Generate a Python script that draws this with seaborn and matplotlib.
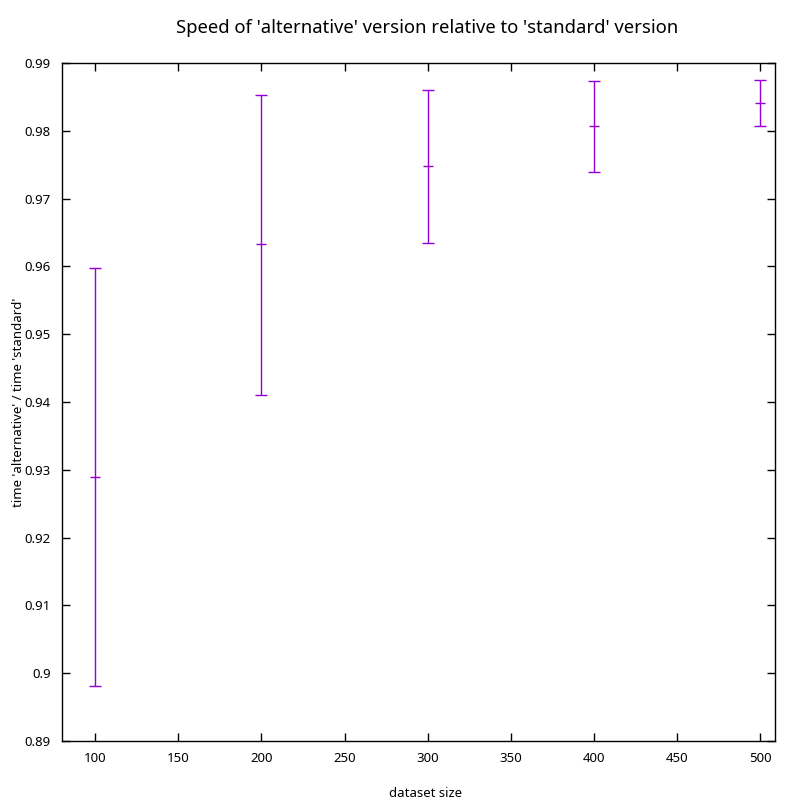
import numpy as np
import pandas as pd
import matplotlib
matplotlib.use("Agg")
import matplotlib.pyplot as plt
import seaborn as sns

sizes = [100, 200, 300, 400, 500]
ratio = [0.9289, 0.9633, 0.9748, 0.9807, 0.9841]
ratio_low = [0.8981, 0.9410, 0.9634, 0.9739, 0.9807]
ratio_high = [0.9598, 0.9853, 0.9860, 0.9873, 0.9875]

df = pd.DataFrame({"size": sizes, "ratio": ratio, "low": ratio_low, "high": ratio_high})

sns.set_style("ticks")
plt.rcParams["font.family"] = ["Noto Sans", "DejaVu Sans"]
plt.rcParams["text.color"] = "black"
plt.rcParams["xtick.color"] = "black"
plt.rcParams["ytick.color"] = "black"
plt.rcParams["axes.labelcolor"] = "black"

color = "#9400d3"
fig = plt.figure(figsize=(8, 8), dpi=100)
ax = fig.add_axes([0.0775, 0.07375, 0.89125, 0.8475])

yerr = np.array([df["ratio"] - df["low"], df["high"] - df["ratio"]])
ax.errorbar(df["size"], df["ratio"], yerr=yerr, fmt="none", ecolor=color,
            elinewidth=1, capsize=4, capthick=1)
sns.scatterplot(data=df, x="size", y="ratio", marker="_", s=60, color=color,
                linewidth=1, ax=ax, zorder=3)

ax.set_xlim(80, 509)
ax.set_ylim(0.89, 0.99)
ax.set_xticks(np.arange(100, 501, 50))
ax.set_yticks(np.arange(0.89, 0.9901, 0.01))
ax.set_yticklabels(["0.89", "0.9", "0.91", "0.92", "0.93", "0.94", "0.95",
                    "0.96", "0.97", "0.98", "0.99"])
ax.tick_params(direction="in", top=True, right=True, length=6, width=1,
               labelsize=9.5, pad=8)
for s in ax.spines.values():
    s.set_visible(True)
    s.set_linewidth(1)
    s.set_color("black")

ax.set_xlabel("dataset size", fontsize=9.5)
ax.set_ylabel("time 'alternative' / time 'standard'", fontsize=9.5)
ax.xaxis.set_label_coords(0.51, -0.068)
ax.yaxis.set_label_coords(-0.052, 0.5)
fig.text(0.534, 0.965, "Speed of 'alternative' version relative to 'standard' version",
         fontsize=13.3, ha="center", va="center")

fig.savefig("out.png", dpi=100)
